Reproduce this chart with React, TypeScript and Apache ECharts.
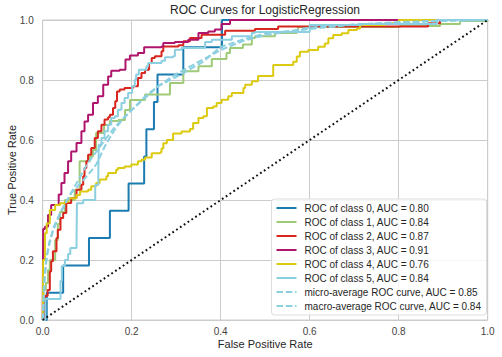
import React, { useEffect, useRef } from "react";
import * as echarts from "echarts";

const FONT = "'Liberation Sans', Arial, 'DejaVu Sans', sans-serif";

const titleText = "ROC Curves for LogisticRegression";
const xAxisName = "False Positive Rate";
const yAxisName = "True Positive Rate";
const tickValues = [0, 0.2, 0.4, 0.6, 0.8, 1.0];

const seriesNames = [
  "ROC of class 0, AUC = 0.80",
  "ROC of class 1, AUC = 0.84",
  "ROC of class 2, AUC = 0.87",
  "ROC of class 3, AUC = 0.91",
  "ROC of class 4, AUC = 0.76",
  "ROC of class 5, AUC = 0.84",
  "micro-average ROC curve, AUC = 0.85",
  "macro-average ROC curve, AUC = 0.84",
];

const seriesColors = ["#1a7cb0", "#9fca78", "#d8261e", "#b0156d", "#dcca10", "#8ccfe0", "#8ccfe0", "#8ccfe0"];

// [fpr, tpr] pairs (upper corners of each step)
const roc0 = [
  [0, 0], [0.009, 0.091], [0.046, 0.182], [0.104, 0.273], [0.151, 0.364], [0.193, 0.455],
  [0.228, 0.545], [0.233, 0.636], [0.25, 0.727], [0.258, 0.818], [0.316, 0.909], [0.403, 1], [1, 1],
];

const roc1 = [
  [0, 0], [0.002, 0.1], [0.007, 0.123], [0.012, 0.167], [0.016, 0.2], [0.028, 0.267], [0.034, 0.32],
  [0.039, 0.36], [0.05, 0.4], [0.072, 0.434], [0.083, 0.529], [0.106, 0.546], [0.113, 0.567],
  [0.12, 0.623], [0.138, 0.65], [0.151, 0.663], [0.17, 0.667], [0.185, 0.7], [0.196, 0.733],
  [0.23, 0.752], [0.286, 0.79], [0.316, 0.829], [0.35, 0.846], [0.38, 0.87], [0.413, 0.89],
  [0.421, 0.907], [0.45, 0.918], [0.47, 0.94], [0.477, 0.946], [0.522, 0.957], [0.571, 0.967],
  [0.574, 0.977], [0.803, 0.98], [0.893, 0.987], [0.938, 0.997], [1, 1],
];

const roc2 = [
  [0, 0], [0.005, 0.08], [0.011, 0.1], [0.016, 0.162], [0.019, 0.196], [0.023, 0.229], [0.031, 0.273],
  [0.034, 0.301], [0.04, 0.34], [0.046, 0.357], [0.053, 0.39], [0.064, 0.407], [0.076, 0.434],
  [0.087, 0.451], [0.091, 0.479], [0.094, 0.507], [0.098, 0.529], [0.102, 0.551], [0.109, 0.573],
  [0.117, 0.607], [0.124, 0.629], [0.132, 0.651], [0.139, 0.668], [0.147, 0.676], [0.151, 0.684],
  [0.158, 0.707], [0.163, 0.729], [0.167, 0.762], [0.173, 0.768], [0.184, 0.773], [0.203, 0.779],
  [0.214, 0.807], [0.222, 0.823], [0.23, 0.834], [0.239, 0.857], [0.245, 0.873], [0.252, 0.879],
  [0.267, 0.896], [0.271, 0.912], [0.305, 0.916], [0.316, 0.929], [0.331, 0.94], [0.357, 0.951],
  [0.41, 0.964], [0.477, 0.97], [0.529, 0.978], [0.866, 0.989], [0.893, 1], [1, 1],
];

const roc3 = [
  [0, 0], [0.001, 0.303], [0.005, 0.311], [0.012, 0.35], [0.019, 0.383], [0.036, 0.418], [0.042, 0.457],
  [0.049, 0.49], [0.057, 0.529], [0.064, 0.562], [0.076, 0.59], [0.087, 0.629], [0.094, 0.662],
  [0.102, 0.684], [0.113, 0.723], [0.124, 0.746], [0.136, 0.784], [0.147, 0.812], [0.154, 0.831],
  [0.173, 0.834], [0.186, 0.868], [0.196, 0.882], [0.214, 0.89], [0.228, 0.909], [0.267, 0.912],
  [0.271, 0.923], [0.297, 0.927], [0.327, 0.934], [0.35, 0.957], [0.372, 0.962], [0.387, 0.968],
  [0.402, 0.987], [0.421, 0.992], [0.421, 1], [1, 1],
];

const roc4 = [
  [0, 0], [0.001, 0.2], [0.005, 0.289], [0.009, 0.322], [0.016, 0.367], [0.028, 0.383], [0.039, 0.389],
  [0.05, 0.394], [0.058, 0.406], [0.076, 0.417], [0.084, 0.428], [0.102, 0.434], [0.109, 0.446],
  [0.12, 0.457], [0.128, 0.468], [0.143, 0.479], [0.147, 0.49], [0.165, 0.501], [0.169, 0.507],
  [0.184, 0.512], [0.199, 0.518], [0.214, 0.529], [0.222, 0.534], [0.23, 0.542], [0.245, 0.556],
  [0.264, 0.559], [0.267, 0.572], [0.271, 0.589], [0.279, 0.6], [0.293, 0.622], [0.312, 0.628],
  [0.331, 0.637], [0.338, 0.657], [0.35, 0.673], [0.361, 0.679], [0.369, 0.707], [0.383, 0.712],
  [0.391, 0.723], [0.402, 0.734], [0.417, 0.746], [0.425, 0.757], [0.451, 0.773], [0.455, 0.784],
  [0.47, 0.796], [0.484, 0.813], [0.518, 0.85], [0.563, 0.861], [0.571, 0.878], [0.578, 0.894],
  [0.597, 0.9], [0.619, 0.911], [0.634, 0.922], [0.642, 0.939], [0.653, 0.95], [0.672, 0.956],
  [0.687, 0.967], [0.706, 0.972], [0.713, 0.983], [0.769, 0.989], [0.8, 1], [1, 1],
];

const roc5 = [
  [0, 0], [0.006, 0.07], [0.04, 0.13], [0.043, 0.18], [0.05, 0.2], [0.057, 0.22], [0.062, 0.24],
  [0.076, 0.267], [0.077, 0.389], [0.091, 0.4], [0.118, 0.45], [0.125, 0.489], [0.126, 0.584],
  [0.132, 0.607], [0.139, 0.629], [0.147, 0.651], [0.154, 0.673], [0.162, 0.679], [0.169, 0.701],
  [0.177, 0.723], [0.184, 0.74], [0.192, 0.757], [0.201, 0.779], [0.207, 0.801], [0.21, 0.818],
  [0.216, 0.834], [0.233, 0.846], [0.237, 0.857], [0.267, 0.864], [0.275, 0.876], [0.293, 0.879],
  [0.297, 0.901], [0.312, 0.907], [0.365, 0.927], [0.38, 0.934], [0.425, 0.946], [0.47, 0.957],
  [0.477, 0.96], [0.6, 0.983], [0.713, 0.987], [0.886, 0.99], [0.886, 1], [1, 1],
];

const microAvg = [
  [0, 0], [0.003, 0.12], [0.008, 0.2], [0.015, 0.26], [0.025, 0.31], [0.04, 0.36], [0.055, 0.4],
  [0.07, 0.44], [0.085, 0.48], [0.1, 0.52], [0.12, 0.56], [0.14, 0.6], [0.16, 0.64], [0.18, 0.67],
  [0.2, 0.7], [0.23, 0.745], [0.26, 0.78], [0.3, 0.81], [0.36, 0.86], [0.4, 0.91], [0.45, 0.935],
  [0.5, 0.955], [0.6, 0.97], [0.7, 0.985], [0.8, 0.993], [0.9, 0.998], [1, 1],
];

const macroAvg = [
  [0, 0], [0.005, 0.15], [0.01, 0.22], [0.016, 0.26], [0.024, 0.3], [0.035, 0.34], [0.05, 0.385],
  [0.065, 0.425], [0.084, 0.455], [0.1, 0.48], [0.121, 0.52], [0.14, 0.58], [0.16, 0.63],
  [0.18, 0.67], [0.2, 0.7], [0.23, 0.74], [0.26, 0.78], [0.3, 0.82], [0.35, 0.86], [0.4, 0.9],
  [0.45, 0.93], [0.5, 0.95], [0.55, 0.96], [0.6, 0.975], [0.7, 0.985], [0.8, 0.99], [0.9, 0.997], [1, 1],
];

const diagonal = [[0, 0], [1, 1]];

const classCurves = [roc0, roc1, roc2, roc3, roc4, roc5];
const averageCurves = [microAvg, macroAvg];

export default function App() {
  const ref = useRef<HTMLDivElement>(null);

  useEffect(() => {
    if (!ref.current) return;
    const chart = echarts.init(ref.current, null, { renderer: "svg" });

    const axisCommon = {
      type: "value",
      min: tickValues[0],
      max: tickValues[tickValues.length - 1],
      interval: 0.2,
      axisLine: { show: false },
      axisTick: { show: false },
      splitLine: { show: true, lineStyle: { color: "#cccccc", width: 1 } },
      nameLocation: "middle",
      nameMoveOverlap: false,
      nameTextStyle: { fontSize: 11, color: "#262626", fontFamily: FONT },
    };

    const series: any[] = [];
    classCurves.forEach((d, i) => {
      series.push({
        type: "line",
        name: seriesNames[i],
        data: d,
        step: "end",
        symbol: "none",
        silent: true,
        lineStyle: { color: seriesColors[i], width: 2 },
        itemStyle: { color: seriesColors[i] },
      });
    });
    averageCurves.forEach((d, j) => {
      const i = 6 + j;
      series.push({
        type: "line",
        name: seriesNames[i],
        data: d,
        symbol: "none",
        silent: true,
        lineStyle: { color: seriesColors[i], width: 2, type: [6.5, 2.8] },
        itemStyle: { color: seriesColors[i] },
      });
    });
    series.push({
      type: "line",
      name: "diagonal",
      data: diagonal,
      symbol: "none",
      silent: true,
      lineStyle: { color: "#111111", width: 2, type: [1.8, 2.8], cap: "butt" },
      itemStyle: { color: "#111111" },
    });

    chart.setOption({
      animation: false,
      backgroundColor: "#ffffff",
      title: {
        text: titleText,
        left: 265,
        top: 4,
        padding: 0,
        textAlign: "center",
        textStyle: { fontSize: 12, fontWeight: "normal", color: "#262626", fontFamily: FONT },
      },
      grid: {
        left: 42.7,
        top: 20,
        width: 445,
        height: 300,
        show: true,
        borderColor: "#cccccc",
        borderWidth: 1,
        backgroundColor: "#ffffff",
        containLabel: false,
        outerBoundsMode: "none",
      },
      xAxis: {
        ...axisCommon,
        name: xAxisName,
        nameGap: 18,
        axisLabel: {
          formatter: (v: number) => v.toFixed(1),
          fontSize: 10,
          color: "#444444",
          margin: 6,
          fontFamily: FONT,
        },
      },
      yAxis: {
        ...axisCommon,
        name: yAxisName,
        nameGap: 25,
        axisLabel: {
          formatter: (v: number) => v.toFixed(1),
          fontSize: 10,
          color: "#444444",
          margin: 9,
          fontFamily: FONT,
        },
      },
      legend: {
        data: seriesNames,
        orient: "vertical",
        left: 271.5,
        top: 199,
        padding: [4, 5, 4, 4],
        itemWidth: 20,
        itemHeight: 10,
        itemGap: 4,
        backgroundColor: "rgba(255,255,255,0.8)",
        borderColor: "#dddddd",
        borderWidth: 1,
        borderRadius: 3,
        selectedMode: false,
        itemStyle: { opacity: 0 },
        textStyle: { fontSize: 10, color: "#262626", fontFamily: FONT, padding: [0, 0, 0, 3] },
      },
      series,
    });

    return () => chart.dispose();
  }, []);

  return (
    <div
      ref={ref}
      style={{ position: "fixed", left: 0, top: 0, width: 502, height: 357, background: "#fff" }}
    />
  );
}
